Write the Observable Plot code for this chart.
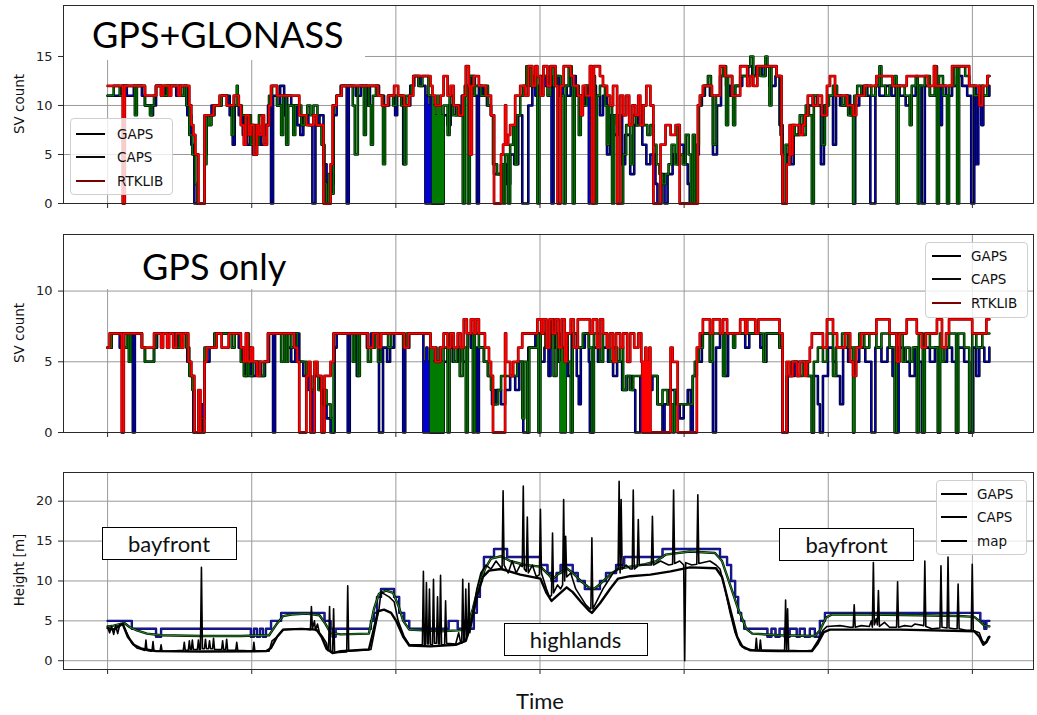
<!DOCTYPE html>
<html>
<head>
<meta charset="utf-8">
<script src="https://cdn.jsdelivr.net/npm/d3@7"></script>
<script src="https://cdn.jsdelivr.net/npm/@observablehq/plot@0.6"></script>
<style>
  body { margin: 0; background: #fff; }
  #chart { position: relative; width: 1037px; height: 715px; background: #fff; font-family: "DejaVu Sans", sans-serif; color: #111; overflow: hidden; }
  .panel { position: absolute; left: 0; }
  .panel svg { display: block; }
  .title { position: absolute; background: #fff; font-family: Lato, sans-serif; font-size: 36px; line-height: 1; color: #000; box-sizing: border-box; white-space: nowrap; }
  .ylabel { position: absolute; font-size: 13.5px; white-space: nowrap; transform: translate(-50%, -50%) rotate(-90deg); }
  .legend { position: absolute; box-sizing: border-box; background: rgba(255,255,255,0.8); border: 1px solid #cfcfcf; border-radius: 4px; font-size: 13.5px; }
  .legend .row { height: 23.5px; display: flex; align-items: center; }
  .legend .sw { display: inline-block; height: 0; border-top: 2px solid #000; }
  .note { position: absolute; box-sizing: border-box; background: #fff; border: 1px solid #000; font-family: Lato, sans-serif; font-size: 22px; display: flex; align-items: center; justify-content: center; }
  .xlabel { position: absolute; font-family: Lato, sans-serif; font-size: 22px; line-height: 1.1; transform: translateX(-50%); }
</style>
</head>
<body>
<div id="chart"></div>
<script>
// ---------------------------------------------------------------------------
// Solutions are logged every EPOCH_SEC seconds; every series is a list of
// [epoch, value] change points (SV counts hold their value until the next one).
// ---------------------------------------------------------------------------
const EPOCH_SEC = 7;
const timeTicks = [0, 1000, 2000, 3000, 4000, 5000, 6000];
const timeDomain = [-306, 6424];

// ---- SV count, GPS+GLONASS ------------------------------------------------
const ggTicks = [0, 5, 10, 15];
const ggGaps = [[0,11],[14,12],[19,11],[26,12],[34,11],[37,10],[43,9],[45,10],[48,12],[53,11],[57,12],[68,11],[71,12],[79,9],[83,6],[86,0],[96,5],[98,9],[103,10],[113,11],[121,9],[124,6],[126,10],[130,9],[134,7],[138,6],[141,8],[144,5],[148,7],[152,6],[155,8],[159,10],[162,0],[164,11],[168,10],[171,12],[175,9],[178,11],[182,10],[188,8],[191,7],[194,9],[199,8],[203,0],[206,8],[210,9],[214,4],[217,0],[221,2],[224,9],[227,11],[231,12],[237,0],[239,12],[246,11],[251,12],[257,10],[260,12],[269,11],[274,10],[279,11],[285,9],[287,11],[293,4],[295,10],[300,12],[304,13],[310,12],[315,0],[316,11],[317,0],[318,10],[319,0],[320,11],[321,0],[333,9],[337,8],[340,10],[345,9],[351,11],[356,12],[360,13],[364,11],[366,0],[368,12],[372,11],[376,10],[380,9],[383,3],[390,4],[395,2],[399,5],[403,4],[407,9],[411,0],[417,10],[421,12],[424,11],[429,13],[434,12],[440,0],[442,13],[447,11],[451,12],[455,11],[459,13],[464,11],[469,10],[473,12],[477,0],[478,12],[484,11],[488,9],[491,11],[495,5],[498,9],[502,7],[506,9],[510,4],[513,7],[518,3],[522,8],[526,9],[530,6],[534,4],[538,5],[543,2],[545,0],[549,3],[552,0],[555,3],[560,5],[564,4],[567,6],[571,4],[575,2],[577,0],[584,5],[586,10],[589,11],[592,12],[597,11],[600,5],[604,10],[608,13],[613,12],[617,11],[622,12],[629,13],[635,14],[639,13],[643,14],[649,13],[652,14],[656,12],[662,13],[666,8],[669,0],[673,5],[677,4],[680,7],[685,8],[691,9],[695,10],[699,11],[703,10],[707,4],[710,10],[714,11],[719,6],[722,11],[726,10],[732,11],[736,9],[739,0],[741,10],[745,11],[749,12],[753,11],[756,0],[761,12],[765,11],[771,12],[777,11],[781,12],[785,11],[791,10],[795,11],[801,12],[807,0],[810,12],[815,11],[820,12],[826,8],[827,12],[831,11],[837,12],[842,13],[847,12],[852,11],[856,0],[859,12],[861,4],[863,11],[866,8],[868,11],[874,12]];
const ggCaps = [[0,11],[6,12],[12,11],[15,12],[27,9],[29,12],[37,10],[42,9],[44,10],[46,11],[48,12],[56,11],[59,12],[73,11],[76,12],[78,10],[81,7],[84,5],[87,2],[89,0],[96,4],[98,9],[100,8],[103,9],[106,10],[113,11],[119,10],[123,7],[125,10],[128,12],[129,10],[133,9],[136,7],[139,9],[142,6],[144,8],[147,6],[150,9],[154,7],[157,8],[160,11],[163,12],[168,10],[172,7],[174,11],[177,6],[179,10],[184,7],[186,10],[192,8],[195,9],[198,10],[201,9],[204,10],[208,8],[212,6],[215,2],[217,0],[219,3],[222,1],[224,10],[227,11],[232,12],[243,10],[245,5],[248,12],[254,7],[256,12],[259,10],[261,6],[263,11],[266,12],[268,11],[273,4],[275,10],[278,11],[283,10],[286,11],[291,10],[294,4],[296,11],[301,12],[303,13],[308,12],[312,13],[318,11],[322,0],[323,10],[324,0],[325,9],[326,0],[327,11],[328,0],[329,10],[330,0],[331,9],[332,0],[333,10],[337,7],[339,11],[342,9],[346,10],[349,9],[352,0],[354,12],[357,0],[359,13],[362,11],[364,12],[370,11],[374,12],[377,10],[380,9],[382,4],[386,3],[390,4],[392,0],[394,5],[397,0],[399,6],[402,8],[404,4],[406,9],[409,11],[412,12],[415,14],[419,12],[422,13],[426,0],[428,12],[432,13],[436,11],[439,14],[442,12],[445,13],[449,11],[452,0],[454,12],[457,14],[460,12],[461,0],[463,12],[467,7],[469,11],[472,10],[475,12],[480,13],[483,0],[485,11],[488,12],[493,10],[495,6],[497,10],[500,0],[502,9],[505,8],[508,0],[511,5],[514,8],[518,4],[521,9],[524,8],[528,10],[531,8],[535,7],[538,8],[541,6],[544,4],[547,3],[550,2],[553,3],[556,4],[559,6],[562,4],[565,8],[567,5],[570,4],[573,7],[576,5],[578,0],[580,7],[582,0],[584,6],[586,10],[588,11],[591,12],[595,13],[598,11],[600,6],[603,11],[607,13],[610,14],[613,8],[615,13],[619,11],[620,8],[622,12],[627,13],[634,14],[637,15],[640,13],[644,14],[647,13],[652,15],[654,14],[656,10],[658,14],[663,13],[667,7],[669,0],[672,6],[675,5],[678,8],[681,7],[686,9],[689,7],[692,10],[695,9],[698,0],[700,11],[704,10],[708,6],[711,10],[715,11],[719,12],[723,11],[728,10],[731,11],[734,9],[737,10],[739,0],[740,11],[743,12],[747,11],[752,12],[757,11],[761,12],[765,14],[767,12],[771,11],[775,12],[780,13],[782,0],[784,12],[790,11],[795,8],[797,12],[801,13],[803,0],[805,12],[810,13],[815,11],[820,14],[822,0],[824,13],[828,11],[832,0],[834,12],[839,14],[842,0],[844,14],[850,13],[854,12],[859,11],[864,12],[868,11],[872,13],[874,13]];
const ggRtk = [[0,12],[15,0],[17,12],[37,11],[48,12],[53,11],[55,12],[61,11],[63,12],[70,11],[72,12],[81,10],[83,8],[85,7],[87,5],[90,0],[96,9],[105,10],[111,11],[118,10],[125,11],[130,10],[132,8],[135,6],[137,9],[140,7],[142,8],[145,5],[148,8],[150,7],[153,9],[155,6],[158,8],[160,10],[162,12],[168,11],[190,9],[197,8],[204,9],[207,8],[214,0],[221,4],[223,10],[227,11],[232,12],[268,11],[272,10],[278,11],[284,12],[288,11],[294,10],[299,11],[303,13],[320,12],[322,11],[325,10],[330,11],[333,13],[337,11],[340,12],[343,10],[348,9],[352,11],[355,14],[358,12],[359,5],[361,12],[363,13],[368,12],[375,11],[380,9],[383,0],[390,5],[392,6],[394,10],[395,6],[397,7],[399,8],[404,11],[409,12],[414,11],[417,14],[421,12],[424,14],[426,13],[429,11],[432,14],[436,12],[439,14],[444,12],[446,0],[449,12],[452,14],[459,13],[462,12],[466,11],[469,9],[471,12],[474,11],[478,14],[480,0],[482,14],[488,13],[491,12],[495,11],[498,10],[501,12],[505,0],[508,11],[511,9],[514,11],[517,8],[520,10],[523,9],[526,11],[528,8],[531,10],[534,12],[538,10],[541,0],[548,6],[553,8],[558,7],[563,8],[567,0],[585,10],[587,11],[590,12],[599,11],[607,14],[612,13],[619,11],[627,14],[634,12],[637,13],[640,12],[644,14],[663,13],[668,5],[669,0],[673,4],[676,8],[677,5],[679,8],[686,7],[689,8],[691,9],[694,11],[699,10],[704,11],[708,9],[713,12],[716,13],[721,11],[733,10],[739,9],[742,11],[750,12],[762,13],[778,12],[792,13],[813,12],[819,14],[821,12],[837,14],[854,12],[864,10],[867,12],[872,13],[874,13]];

// ---- SV count, GPS only ---------------------------------------------------
const gpsTicks = [0, 5, 10];
const gpsGaps = [[0,6],[4,7],[12,6],[15,7],[25,0],[27,7],[34,6],[37,5],[46,6],[49,7],[66,6],[69,7],[79,5],[82,4],[85,0],[94,2],[96,5],[101,6],[106,7],[130,6],[134,5],[136,4],[139,6],[142,4],[147,5],[152,4],[156,5],[160,7],[164,0],[166,7],[177,6],[182,5],[186,7],[190,5],[194,4],[199,3],[203,0],[205,4],[210,3],[214,2],[217,1],[221,0],[225,6],[227,7],[238,0],[240,7],[247,4],[249,7],[257,6],[261,7],[269,0],[273,6],[277,5],[280,6],[284,7],[293,0],[295,6],[299,7],[313,0],[314,5],[315,0],[316,6],[317,0],[318,5],[319,0],[320,6],[321,0],[333,5],[337,6],[342,5],[347,6],[352,5],[357,7],[360,6],[366,0],[368,6],[373,5],[377,4],[381,2],[385,3],[390,2],[394,3],[399,4],[404,3],[408,5],[412,0],[417,6],[424,7],[429,5],[433,6],[437,4],[439,7],[443,6],[447,5],[452,6],[456,4],[460,7],[465,4],[467,2],[469,6],[473,7],[477,5],[478,0],[481,6],[486,5],[491,6],[496,5],[501,4],[505,5],[510,3],[515,4],[520,3],[523,0],[528,4],[534,3],[540,4],[545,2],[550,0],[552,2],[556,3],[563,2],[567,1],[571,2],[575,3],[578,0],[580,4],[584,5],[589,7],[597,5],[600,0],[603,6],[607,7],[612,4],[615,7],[632,6],[636,7],[647,6],[651,5],[653,7],[666,6],[669,0],[674,4],[681,5],[694,4],[698,0],[700,4],[704,2],[706,0],[709,4],[714,6],[719,5],[722,4],[726,2],[729,6],[734,5],[739,0],[740,5],[745,6],[751,5],[757,0],[761,6],[767,5],[773,6],[778,4],[782,0],[784,6],[789,5],[795,4],[800,6],[803,5],[807,0],[809,6],[815,5],[820,6],[823,0],[825,6],[829,5],[832,6],[837,5],[841,0],[843,6],[849,5],[854,0],[858,6],[861,4],[864,6],[869,5],[874,6]];
const gpsCaps = [[0,6],[4,7],[16,6],[19,7],[21,5],[23,7],[34,6],[37,5],[46,6],[48,7],[68,6],[71,7],[78,6],[81,4],[84,3],[86,0],[93,1],[96,6],[106,7],[123,6],[126,7],[132,5],[135,4],[138,7],[140,4],[144,5],[149,4],[155,5],[159,7],[172,5],[175,7],[177,5],[179,7],[182,6],[185,7],[188,5],[197,4],[202,3],[205,4],[209,3],[212,2],[215,3],[217,2],[221,1],[223,0],[224,7],[243,5],[245,7],[248,4],[250,7],[258,5],[261,6],[265,7],[268,5],[271,7],[278,6],[281,7],[293,6],[296,7],[320,0],[321,6],[322,0],[323,5],[324,0],[325,6],[326,0],[327,5],[328,0],[329,6],[330,0],[331,5],[332,0],[333,6],[337,0],[339,7],[343,5],[346,6],[349,4],[352,6],[355,0],[357,7],[362,0],[364,7],[368,6],[373,5],[377,4],[380,3],[383,2],[387,3],[390,4],[406,5],[411,1],[413,5],[416,0],[418,6],[426,7],[427,0],[429,7],[434,6],[439,8],[442,4],[445,7],[448,5],[449,0],[450,6],[451,0],[452,5],[453,0],[454,7],[456,5],[459,0],[461,7],[466,6],[471,7],[477,6],[480,0],[482,7],[488,5],[491,7],[495,6],[498,5],[501,6],[505,5],[508,6],[511,3],[514,4],[518,3],[521,4],[545,2],[550,3],[555,2],[560,0],[562,3],[565,2],[580,4],[582,5],[586,6],[590,7],[597,5],[600,7],[610,4],[612,7],[620,6],[622,7],[650,5],[652,7],[666,6],[669,0],[673,4],[678,5],[683,4],[689,5],[694,4],[698,0],[700,5],[704,6],[709,5],[713,7],[719,4],[722,6],[728,7],[734,6],[739,0],[740,6],[745,7],[750,6],[755,7],[762,6],[767,7],[775,6],[780,0],[782,7],[788,5],[791,6],[795,5],[798,6],[802,0],[804,7],[808,0],[810,7],[815,6],[823,0],[825,7],[826,5],[829,6],[834,7],[841,0],[843,7],[849,6],[854,0],[857,7],[861,6],[867,7],[874,7]];
const gpsRtk = [[0,6],[2,7],[14,0],[16,7],[34,6],[46,7],[53,6],[55,7],[59,6],[61,7],[65,6],[68,7],[73,6],[75,7],[80,5],[83,4],[86,0],[90,3],[92,0],[96,5],[98,6],[108,7],[113,6],[120,7],[132,6],[135,5],[137,7],[139,5],[142,6],[144,5],[148,4],[151,5],[159,7],[185,6],[188,5],[190,0],[197,4],[199,5],[201,0],[205,5],[208,4],[212,0],[215,4],[221,5],[224,7],[258,6],[263,7],[268,6],[271,7],[294,6],[298,7],[320,6],[325,5],[330,6],[333,7],[337,6],[340,7],[343,6],[347,7],[350,6],[353,8],[356,7],[360,8],[363,7],[365,8],[368,7],[374,6],[378,5],[380,4],[382,0],[394,7],[395,5],[399,4],[402,5],[407,6],[411,7],[426,8],[430,7],[432,8],[435,6],[438,8],[441,7],[444,8],[447,6],[450,8],[453,5],[455,7],[459,8],[462,6],[466,8],[478,7],[481,8],[485,6],[488,8],[491,7],[495,6],[498,7],[501,5],[504,7],[508,6],[511,7],[515,5],[518,7],[522,6],[526,7],[529,5],[530,0],[531,5],[532,0],[533,6],[534,0],[535,5],[536,0],[537,6],[538,0],[558,6],[560,5],[565,0],[584,6],[587,7],[590,8],[597,7],[600,8],[607,7],[610,8],[614,7],[627,8],[632,7],[634,8],[642,7],[645,8],[666,7],[669,0],[673,5],[676,4],[679,5],[683,4],[686,5],[691,4],[693,5],[696,6],[698,7],[709,6],[713,8],[719,7],[723,6],[731,7],[736,5],[739,4],[742,6],[747,7],[762,8],[775,7],[782,5],[785,7],[792,8],[802,7],[807,6],[811,7],[822,8],[827,6],[831,7],[834,8],[857,7],[871,8],[874,8]];

// ---- Height [m] -----------------------------------------------------------
const hTicks = [0, 5, 10, 15, 20];
const hGaps = [[0,5],[24,4],[48,3],[53,4],[142,3],[145,4],[148,3],[151,4],[154,3],[157,4],[162,5],[172,6],[215,5],[221,4],[223,3],[226,4],[261,5],[264,6],[267,8],[271,9],[284,8],[289,6],[294,5],[299,4],[338,5],[347,4],[353,5],[357,4],[363,6],[366,8],[369,10],[371,11],[373,13],[383,14],[396,13],[429,12],[436,11],[440,10],[445,11],[449,12],[461,11],[466,10],[473,9],[488,10],[494,11],[504,12],[512,13],[550,14],[607,13],[614,12],[618,10],[622,8],[625,6],[628,5],[631,4],[654,3],[658,4],[662,3],[666,4],[671,3],[676,4],[683,3],[686,4],[691,3],[696,4],[701,3],[706,5],[711,6],[865,5],[869,4],[871,5],[874,5]];
const hCaps = [[0,4.3],[6,4.4],[12,4.6],[17,4.7],[22,4.2],[29,3.8],[39,3.4],[53,3.2],[93,3.1],[132,3.1],[160,3.2],[167,4.5],[174,5.6],[182,5.8],[197,5.9],[210,5.7],[215,4.8],[221,3.5],[231,3.3],[259,3.4],[264,6.5],[269,8.4],[276,8.8],[283,8.5],[288,7],[293,5],[299,3.9],[330,3.7],[348,3.8],[356,4.0],[362,6.5],[368,9.5],[374,11.5],[380,12.8],[390,13.1],[399,12.5],[414,12.0],[429,11.8],[437,10.8],[441,10.2],[446,10.8],[455,11.6],[461,11.0],[469,10.0],[477,9.2],[482,9.0],[488,9.6],[498,10.8],[506,11.5],[518,11.8],[533,12.1],[544,12.5],[553,13.3],[577,13.7],[602,13.5],[609,12.5],[617,9.5],[625,6.5],[633,4.0],[639,3.4],[666,3.2],[701,3.1],[706,3.8],[712,5.4],[718,5.8],[755,5.8],[805,5.7],[844,5.6],[859,5.5],[864,5.0],[869,4.4],[874,4.3]];
const hMap = [[0,4.1],[6,3.9],[12,4.4],[15,4.6],[20,3.0],[26,2.0],[34,1.5],[48,1.2],[93,1.15],[157,1.2],[162,1.6],[168,3.0],[174,3.9],[192,4.0],[207,3.9],[212,3.0],[217,1.5],[223,0.95],[231,1.2],[259,1.4],[263,3.5],[268,6.2],[274,6.4],[281,6.0],[286,5.0],[293,3.0],[299,1.9],[320,1.8],[345,2.0],[355,2.5],[360,4.5],[366,8],[372,10.5],[378,11.3],[390,11.5],[409,10.8],[429,10.3],[435,8.5],[440,7.5],[446,8.2],[455,9.2],[461,8.6],[469,7.4],[477,6.3],[480,6.0],[488,7.2],[498,9.0],[506,10.3],[518,10.6],[538,10.8],[558,11.2],[577,11.7],[603,11.6],[609,10.5],[617,6.5],[624,3.0],[629,1.8],[637,1.3],[666,1.2],[698,1.2],[704,2.2],[710,3.6],[716,3.9],[785,3.9],[859,3.7],[864,3.0],[868,2.0],[871,2.3],[874,3.0]];
// single-epoch height solutions (unsmoothed), with their outliers
const hEpoch = [[0,4.2],[2,3.5],[4,4.3],[6,3.3],[8,4.4],[10,3.4],[12,4.5],[15,4.6],[19,3.5],[24,2.2],[29,1.6],[34,1.4],[37,1.3],[38,2.6],[39,1.3],[43,1.2],[44,1.2],[45,2.4],[46,1.2],[52,1.2],[53,2.0],[54,1.2],[63,1.2],[75,1.3],[76,2.3],[77,1.3],[80,1.3],[81,2.5],[82,1.4],[83,1.4],[84,2.6],[85,1.4],[89,1.4],[90,2.6],[91,1.4],[92,1.4],[93,11.7],[94,1.5],[96,1.5],[97,2.7],[98,1.5],[100,1.5],[101,2.5],[102,1.5],[104,1.5],[105,2.8],[106,1.4],[113,1.4],[114,2.5],[115,1.4],[117,1.4],[118,2.7],[119,1.3],[127,1.3],[128,2.3],[129,1.3],[144,1.2],[145,2.3],[146,1.2],[160,1.2],[163,2.5],[168,3.0],[174,3.9],[192,4.0],[201,3.9],[202,6.8],[203,4.0],[205,5.0],[206,3.8],[208,4.6],[210,3.5],[213,3.0],[217,2.2],[218,1.3],[219,1.3],[220,6.8],[221,1.2],[223,1.1],[224,6.5],[225,1.0],[237,1.1],[238,9.4],[239,1.2],[261,1.4],[265,4],[269,6.5],[271,8.6],[279,8.0],[284,7.4],[288,5.0],[294,3.0],[299,2.0],[312,2.0],[313,11.2],[314,2.0],[315,2.0],[316,9.8],[317,2.1],[318,2.1],[319,9.0],[320,2.0],[322,2.0],[323,10.2],[324,2.2],[326,2.2],[327,8.0],[328,2.1],[329,2.1],[330,10.7],[331,2.0],[334,2.0],[335,7.5],[336,2.2],[345,2.1],[348,3.5],[350,2.2],[351,2.2],[352,10.2],[353,2.5],[354,2.8],[355,9.0],[356,3.0],[357,3.2],[358,9.7],[359,3.5],[362,6.0],[366,9.0],[370,11.0],[375,12.0],[380,11.5],[385,12.5],[391,11.5],[392,21.3],[393,12.0],[397,11.0],[401,12.5],[405,11.0],[409,12.0],[411,11.8],[412,21.9],[413,11.5],[415,11.2],[416,18.0],[417,11.0],[421,12.0],[425,10.5],[428,10.8],[429,19.0],[430,11.0],[435,9.0],[438,8.0],[440,8.2],[441,16.0],[442,8.5],[446,9.5],[449,9.0],[451,9.5],[452,20.2],[453,10],[454,15.6],[455,10.5],[459,11.0],[464,9.0],[469,8.0],[474,7.0],[478,6.5],[479,6.5],[480,15.4],[481,6.5],[485,7.5],[491,9.0],[496,10.0],[501,11.0],[506,11.5],[507,22.5],[508,11],[509,20.2],[510,11.5],[514,12.0],[518,11.5],[520,11.5],[521,21.4],[522,11.5],[525,11.8],[526,17.7],[527,12.0],[533,12.0],[539,12.0],[540,18.1],[541,12.0],[548,12.5],[556,12.0],[560,12.1],[561,21.4],[562,12.2],[567,12.5],[571,12.0],[572,0],[573,12.3],[579,12.0],[584,12.1],[585,20.8],[586,12.2],[597,12.5],[603,12.0],[607,11.5],[612,9],[617,6],[622,3.5],[627,2.0],[632,1.5],[642,1.3],[643,2.8],[644,1.3],[646,1.3],[647,2.6],[648,1.3],[671,1.3],[672,7.6],[673,1.3],[674,6.5],[675,1.3],[691,1.2],[698,1.3],[704,2.5],[709,3.8],[713,4.3],[726,4.4],[736,4.2],[739,4.2],[740,7.0],[741,4.2],[747,4.4],[755,4.3],[757,5.0],[758,4.2],[759,12.3],[760,4.5],[762,5.3],[763,4.5],[764,8.8],[765,4.3],[770,4.8],[775,4.2],[782,4.2],[783,9.9],[784,4.2],[790,4.4],[797,4.3],[800,4.6],[809,4.4],[810,12.5],[811,4.3],[817,4.0],[825,4.1],[826,11.9],[827,4.2],[832,4.1],[833,13.0],[834,4.1],[839,4.0],[842,4.0],[843,9.6],[844,4.0],[852,3.8],[856,3.8],[857,12.1],[858,3.8],[864,3.5],[867,2.5],[870,2.2],[873,3.0]];

// route segments labelled on the height panel (time in s, height in m)
const segments = [
  {label: "bayfront", t: 430, h: 14.6},
  {label: "highlands", t: 3250, h: 2.6},
  {label: "bayfront", t: 5130, h: 14.5}
];

// ---------------------------------------------------------------------------
const GRID = "#9a9a9a";
const rows = (pairs) => pairs.map(([e, v]) => ({t: e * EPOCH_SEC, v}));
const chart = document.getElementById("chart");

function baseMarks(yTicks) {
  return [
    Plot.gridX(timeTicks, {stroke: GRID, strokeOpacity: 1, strokeWidth: 1}),
    Plot.gridY(yTicks, {stroke: GRID, strokeOpacity: 1, strokeWidth: 1})
  ];
}
function frameMarks(yTicks) {
  return [
    Plot.frame({stroke: "#2a2a2a", strokeWidth: 1}),
    Plot.axisY(yTicks, {tickSize: 5, tickPadding: 6, fontSize: 13, label: null, stroke: "#2a2a2a"}),
    Plot.axisX(timeTicks, {tickSize: 5, tickFormat: () => "", label: null, stroke: "#2a2a2a"})
  ];
}
// a line drawn as a dark edge with a coloured core
function edged(data, curve, edge, core, wEdge, wCore) {
  const d = rows(data);
  return [
    Plot.line(d, {x: "t", y: "v", curve, stroke: edge, strokeWidth: wEdge}),
    Plot.line(d, {x: "t", y: "v", curve, stroke: core, strokeWidth: wCore})
  ];
}
function makePlot({height, marginTop, marginBottom, yDomain, yTicks, marks}) {
  return Plot.plot({
    width: 1037, height, marginLeft: 63, marginRight: 4, marginTop, marginBottom,
    style: {fontFamily: "DejaVu Sans, sans-serif", fontSize: "13px", color: "#222", background: "transparent"},
    x: {domain: timeDomain},
    y: {domain: yDomain},
    marks: [...baseMarks(yTicks), ...marks, ...frameMarks(yTicks)]
  });
}
function place(svg, top) {
  const wrap = document.createElement("div");
  wrap.className = "panel";
  wrap.style.top = top + "px";
  wrap.append(svg);
  chart.append(wrap);
}
function div(cls, text, style) {
  const el = document.createElement("div");
  el.className = cls;
  if (text != null) el.textContent = text;
  Object.assign(el.style, style);
  chart.append(el);
  return el;
}
function legend(box, items) {
  const el = div("legend", null, {left: box.left + "px", top: box.top + "px", width: box.width + "px", height: box.height + "px", paddingTop: box.padTop + "px"});
  for (const it of items) {
    const row = document.createElement("div");
    row.className = "row";
    row.style.paddingLeft = box.swatchLeft + "px";
    const sw = document.createElement("span");
    sw.className = "sw";
    sw.style.width = box.swatch + "px";
    sw.style.borderTopColor = it.color;
    const tx = document.createElement("span");
    tx.textContent = it.label;
    tx.style.marginLeft = box.gap + "px";
    row.append(sw, tx);
    el.append(row);
  }
}
const svMarks = (gaps, caps, rtk) => [
  ...edged(gaps, "step-after", "#000000", "#0000d0", 2.6, 1.2),
  ...edged(caps, "step-after", "#001800", "#007a00", 2.6, 1.2),
  ...edged(rtk, "step-after", "#7a0000", "#ff0000", 2.8, 1.6)
];

// ---- panel 1: GPS+GLONASS ------------------------------------------------
const p1 = makePlot({height: 218, marginTop: 5, marginBottom: 15, yDomain: [0, 20.2], yTicks: ggTicks,
  marks: svMarks(ggGaps, ggCaps, ggRtk)});
place(p1, 0);
div("title", "GPS+GLONASS", {left: "64px", top: "6px", width: "301px", height: "54px", paddingLeft: "28px", paddingTop: "10px"});
div("ylabel", "SV count", {left: "19px", top: "104px"});
legend({left: 70, top: 118, width: 103, height: 77, padTop: 3, swatchLeft: 5, swatch: 29, gap: 12},
  [{label: "GAPS", color: "#000"}, {label: "CAPS", color: "#0a0a0a"}, {label: "RTKLIB", color: "#7a0000"}]);

// ---- panel 2: GPS only ---------------------------------------------------
const p2 = makePlot({height: 227, marginTop: 14, marginBottom: 15, yDomain: [0, 14], yTicks: gpsTicks,
  marks: svMarks(gpsGaps, gpsCaps, gpsRtk)});
place(p2, 220);
div("title", "GPS only", {left: "64px", top: "235px", width: "316px", height: "54px", paddingLeft: "78px", paddingTop: "13px"});
div("ylabel", "SV count", {left: "19px", top: "333px"});
legend({left: 925, top: 242, width: 103, height: 76, padTop: 1, swatchLeft: 6, swatch: 29, gap: 10},
  [{label: "GAPS", color: "#000"}, {label: "CAPS", color: "#0a0a0a"}, {label: "RTKLIB", color: "#7a0000"}]);

// ---- panel 3: height -----------------------------------------------------
const P3_TOP = 460;
const p3 = makePlot({height: 224, marginTop: 12, marginBottom: 15, yDomain: [-1.1, 23.6], yTicks: hTicks,
  marks: [
    ...edged(hGaps, "step-after", "#0b0b50", "#1c1cb4", 2.4, 1.3),
    ...edged(hCaps, "linear", "#001800", "#2a8a2a", 2.4, 1.0),
    Plot.line(rows(hMap), {x: "t", y: "v", stroke: "#000", strokeWidth: 2.4}),
    Plot.line(rows(hEpoch), {x: "t", y: "v", stroke: "#000", strokeWidth: 1.6})
  ]});
place(p3, P3_TOP);
div("ylabel", "Height [m]", {left: "19px", top: "570px"});
legend({left: 936, top: 480, width: 91, height: 75, padTop: 1, swatchLeft: 4, swatch: 26, gap: 10},
  [{label: "GAPS", color: "#000"}, {label: "CAPS", color: "#000"}, {label: "map", color: "#000"}]);
const sx = p3.scale("x"), sy = p3.scale("y");
for (const s of segments) {
  const w = s.label === "highlands" ? 144 : 135, h = 33;
  div("note", s.label, {left: (sx.apply(s.t) - w / 2) + "px", top: (P3_TOP + sy.apply(s.h) - h / 2) + "px", width: w + "px", height: h + "px"});
}

div("xlabel", "Time", {left: "540px", top: "689px"});
</script>
</body>
</html>
